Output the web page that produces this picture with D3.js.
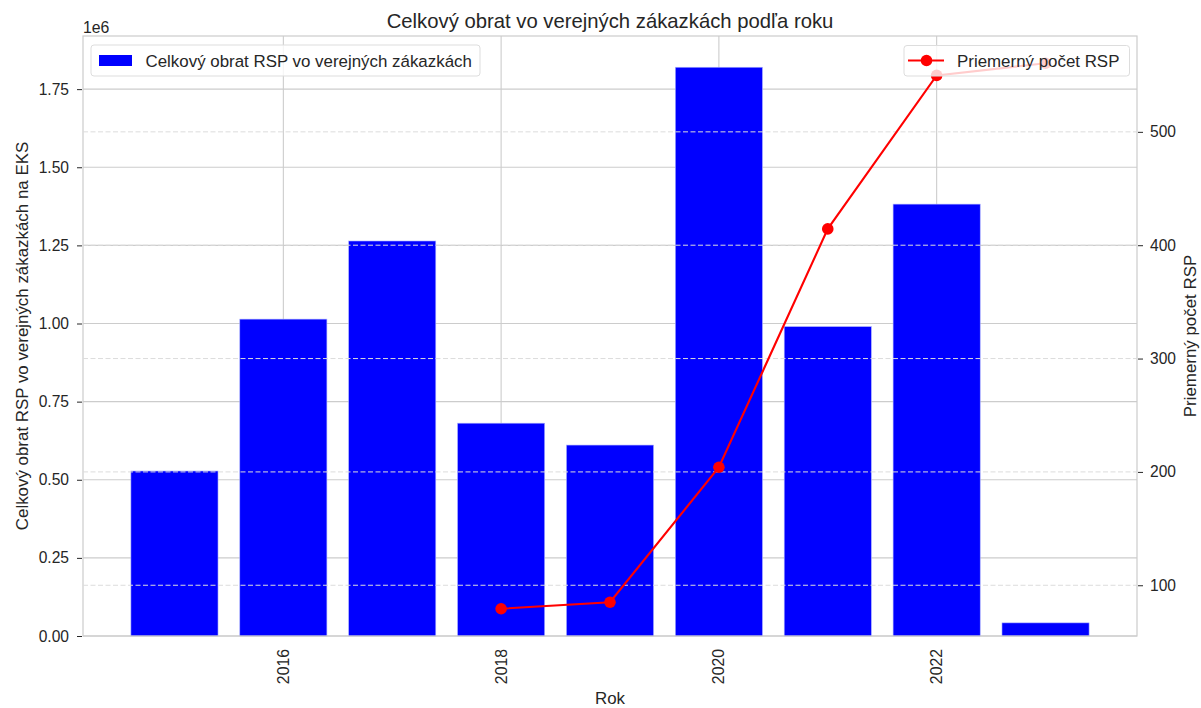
<!DOCTYPE html>
<html>
<head>
<meta charset="utf-8">
<script src="https://cdn.jsdelivr.net/npm/d3@7"></script>
<style>
body{margin:0;background:#fff;}
text{font-family:"Liberation Sans",Arial,sans-serif;fill:#262626;}
</style>
</head>
<body>
<script>
var years = [2015, 2016, 2017, 2018, 2019, 2020, 2021, 2022, 2023];
var obrat = [528000, 1014000, 1264000, 681000, 611000, 1820000, 990000, 1382000, 42000];
var lineYears = [2018, 2019, 2020, 2021, 2022, 2023];
var pocet = [79.3, 85.0, 204.1, 414.4, 549.8, 560.5];
var xTicks = [2016, 2018, 2020, 2022];
var leftTicks = [0, 250000, 500000, 750000, 1000000, 1250000, 1500000, 1750000];
var rightTicks = [100, 200, 300, 400, 500];

var W = 1201, H = 708;
var pLeft = 83, pRight = 1137, pTop = 36, pBottom = 636;

var svg = d3.select("body").append("svg")
  .attr("width", W).attr("height", H);

var x = d3.scaleLinear()
  .domain([2014.16, 2023.84])
  .range([pLeft, pRight]);
var y = d3.scaleLinear()
  .domain([0, 1920000])
  .range([pBottom, pTop]);
var pmin = d3.min(pocet), pmax = d3.max(pocet), pr = pmax - pmin;
var y2 = d3.scaleLinear()
  .domain([pmin - 0.05 * pr, pmax + 0.05 * pr])
  .range([pBottom, pTop]);

// ax1 grid (solid, under bars)
svg.append("g").selectAll("line")
  .data(leftTicks).enter().append("line")
  .attr("x1", pLeft).attr("x2", pRight)
  .attr("y1", function(d){return y(d)}).attr("y2", function(d){return y(d)})
  .attr("stroke", "#cccccc").attr("stroke-width", 1.1);
svg.append("g").selectAll("line")
  .data(xTicks).enter().append("line")
  .attr("x1", function(d){return x(d)}).attr("x2", function(d){return x(d)})
  .attr("y1", pTop).attr("y2", pBottom)
  .attr("stroke", "#cccccc").attr("stroke-width", 1.1);

// bars
var bw = x(2015.4) - x(2014.6);
svg.append("g").selectAll("rect")
  .data(obrat).enter().append("rect")
  .attr("x", function(d,i){return x(years[i] - 0.4)})
  .attr("width", bw)
  .attr("y", function(d){return y(d)})
  .attr("height", function(d){return pBottom - y(d)})
  .attr("fill", "#0000ff")
  .attr("stroke", "#aab0ff").attr("stroke-width", 0.6);

// spines
svg.append("rect")
  .attr("x", pLeft).attr("y", pTop)
  .attr("width", pRight - pLeft).attr("height", pBottom - pTop)
  .attr("fill", "none").attr("stroke", "#cccccc").attr("stroke-width", 1.2);

// left axis
var yAxis = d3.axisLeft(y).tickValues(leftTicks)
  .tickFormat(function(d){return d3.format(".2f")(d / 1e6)})
  .tickSize(5).tickPadding(8);
var ga = svg.append("g").attr("transform", "translate(" + (pLeft - 1) + ",0)").call(yAxis);
ga.select(".domain").remove();
ga.selectAll("line").attr("stroke", "#262626");
ga.selectAll("text").attr("font-size", 15.6).attr("font-family", "Liberation Sans, Arial, sans-serif").attr("fill", "#262626");

// ax1 legend
var lg = svg.append("g");
lg.append("rect").attr("x", 91).attr("y", 45).attr("width", 389).attr("height", 31)
  .attr("rx", 3).attr("fill", "#fff").attr("fill-opacity", 0.8)
  .attr("stroke", "#dddddd");
lg.append("rect").attr("x", 99).attr("y", 55).attr("width", 33).attr("height", 11).attr("fill", "#0000ff");
lg.append("text").attr("x", 145.5).attr("y", 66.5).attr("font-size", 16.9)
  .text("Celkový obrat RSP vo verejných zákazkách");

// ax2 dashed grid
svg.append("g").selectAll("line")
  .data(rightTicks).enter().append("line")
  .attr("x1", pLeft).attr("x2", pRight)
  .attr("y1", function(d){return y2(d)}).attr("y2", function(d){return y2(d)})
  .attr("stroke", "#dcdcdc").attr("stroke-width", 1)
  .attr("stroke-dasharray", "5,2.5");

// line
var line = d3.line()
  .x(function(d,i){return x(lineYears[i])})
  .y(function(d){return y2(d)});
svg.append("path").datum(pocet)
  .attr("d", line).attr("fill", "none")
  .attr("stroke", "#ff0000").attr("stroke-width", 2.1);
svg.append("g").selectAll("circle")
  .data(pocet).enter().append("circle")
  .attr("cx", function(d,i){return x(lineYears[i])})
  .attr("cy", function(d){return y2(d)})
  .attr("r", 5.8).attr("fill", "#ff0000");

// right axis
var y2Axis = d3.axisRight(y2).tickValues(rightTicks).tickSize(5).tickPadding(7);
var gb = svg.append("g").attr("transform", "translate(" + (pRight + 1) + ",0)").call(y2Axis);
gb.select(".domain").remove();
gb.selectAll("line").attr("stroke", "#262626");
gb.selectAll("text").attr("font-size", 15.6).attr("font-family", "Liberation Sans, Arial, sans-serif").attr("fill", "#262626");

// ax2 legend
var lg2 = svg.append("g");
lg2.append("rect").attr("x", 904).attr("y", 45.5).attr("width", 225.5).attr("height", 30.5)
  .attr("rx", 3).attr("fill", "#fff").attr("fill-opacity", 0.8)
  .attr("stroke", "#dddddd");
lg2.append("line").attr("x1", 908).attr("x2", 944).attr("y1", 60.5).attr("y2", 60.5)
  .attr("stroke", "#ff0000").attr("stroke-width", 2.1);
lg2.append("circle").attr("cx", 926.5).attr("cy", 60.5).attr("r", 5.8).attr("fill", "#ff0000");
lg2.append("text").attr("x", 957).attr("y", 66.5).attr("font-size", 16.9)
  .text("Priemerný počet RSP");

// x tick labels
svg.append("g").selectAll("text")
  .data(xTicks).enter().append("text")
  .attr("transform", function(d){return "translate(" + x(d) + ",649) rotate(-90)"})
  .attr("text-anchor", "end").attr("dy", "0.35em")
  .attr("font-size", 15.8)
  .text(function(d){return d});

// titles
svg.append("text").attr("x", (pLeft + pRight) / 2).attr("y", 27.5)
  .attr("text-anchor", "middle").attr("font-size", 20.3)
  .text("Celkový obrat vo verejných zákazkách podľa roku");
svg.append("text").attr("x", pLeft).attr("y", 32.5).attr("font-size", 15.8).text("1e6");
svg.append("text").attr("x", (pLeft + pRight) / 2).attr("y", 704)
  .attr("text-anchor", "middle").attr("font-size", 16.9).text("Rok");
svg.append("text")
  .attr("transform", "translate(28," + ((pTop + pBottom) / 2) + ") rotate(-90)")
  .attr("text-anchor", "middle").attr("font-size", 16.9)
  .text("Celkový obrat RSP vo verejných zákazkách na EKS");
svg.append("text")
  .attr("transform", "translate(1196," + ((pTop + pBottom) / 2) + ") rotate(-90)")
  .attr("text-anchor", "middle").attr("font-size", 16.9)
  .text("Priemerný počet RSP");
</script>
</body>
</html>
